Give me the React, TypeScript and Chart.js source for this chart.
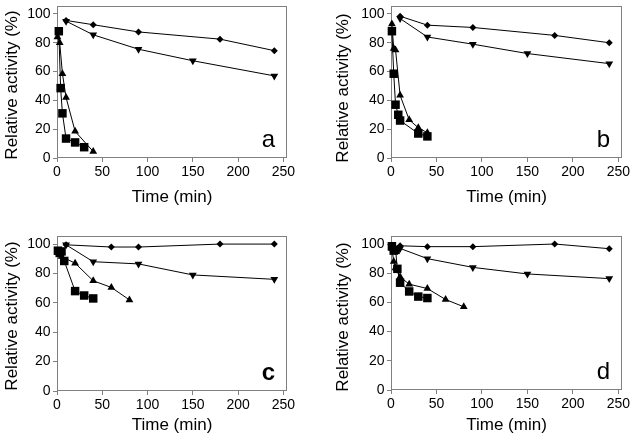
import React, { useEffect, useRef } from 'react';
import { Chart, registerables } from 'chart.js';
Chart.register(...registerables);

const FONT = "'Liberation Sans', Arial, sans-serif";

// Panel a
const aDiamondT = [10, 40, 90, 180, 240];
const aDiamondV = [95.5, 92.5, 87.5, 82.5, 74.5];
const aDownT = [10, 40, 90, 150, 240];
const aDownV = [95, 85.5, 75.5, 67.5, 57];
const aUpT = [0.5, 3, 6, 10, 20, 40];
const aUpV = [84, 80, 58.5, 42, 18.5, 4.5];
const aSqT = [2, 4, 6, 10, 20, 30];
const aSqV = [88, 48.5, 31, 13.5, 10.8, 7.5];

// Panel b
const bDiamondT = [10, 40, 90, 180, 240];
const bDiamondV = [98.4, 92.2, 90.6, 85.1, 80];
const bDownT = [10, 40, 90, 150, 240];
const bDownV = [96.8, 84, 79, 72.5, 65.5];
const bUpT = [1, 3, 5, 10, 20, 30, 40];
const bUpV = [93, 76, 75, 43.5, 26.5, 21, 17.5];
const bSqT = [1, 3, 5, 8, 10, 30, 40];
const bSqV = [88, 58.5, 37, 30, 26, 17, 15];

// Panel c
const cDiamondT = [10, 60, 90, 180, 240];
const cDiamondV = [99.5, 98, 98, 100, 100];
const cDownT = [10, 40, 90, 150, 240];
const cDownV = [99.5, 88, 86.5, 79, 76];
const cUpT = [1, 5, 20, 40, 60, 80];
const cUpV = [95, 91.5, 87, 75, 70.5, 62];
const cSqT = [1, 3, 5, 8, 20, 30, 40];
const cSqV = [95.5, 94, 95, 88.5, 68, 65, 63];

// Panel d
const dDiamondT = [10, 40, 90, 180, 240];
const dDiamondV = [98.8, 98.2, 98.2, 100, 96.8];
const dDownT = [10, 40, 90, 150, 240];
const dDownV = [97, 90, 84, 79.5, 76.3];
const dUpT = [1, 3, 5, 10, 20, 40, 60, 80];
const dUpV = [97, 88, 83.5, 77.5, 72.5, 69.5, 62, 57];
const dSqT = [1, 3, 5, 7, 10, 20, 30, 40];
const dSqV = [98.5, 95.5, 96, 83, 73.5, 67.5, 64, 63];

const xTicksMax = 254;
const yTicksMax = 105.5;
const xLabel = 'Time (min)';
const yLabel = 'Relative activity (%)';

type Style = 'diamond' | 'down' | 'up' | 'square';
type Series = { t: number[]; v: number[]; style: Style };
type Geom = { left: number; right: number; top: number; bottom: number; yTitleX: number; yTitleY: number; xTitleY: number };

function styleProps(s: Style) {
  switch (s) {
    case 'diamond':
      return { pointStyle: 'rectRot', pointRadius: 3.5, pointRotation: 0 };
    case 'down':
      return { pointStyle: 'triangle', pointRadius: 4.5, pointRotation: 180 };
    case 'up':
      return { pointStyle: 'triangle', pointRadius: 4.5, pointRotation: 0 };
    default:
      return { pointStyle: 'rect', pointRadius: 6, pointRotation: 0 };
  }
}

function Panel(props: { x: number; y: number; w: number; h: number; geom: Geom; letter: string; bold?: boolean; series: Series[] }) {
  const ref = useRef<HTMLCanvasElement>(null);
  useEffect(() => {
    const { w, h, geom, letter, bold, series } = props;
    const TITLE = 17;
    const LH = TITLE * 1.2;
    const padLeft = 0;
    const yWidth = geom.left - padLeft;
    const padRight = w - geom.right;
    const padTop = geom.top;
    const scaleBottom = geom.xTitleY + LH / 2;
    const padBottom = h - scaleBottom;
    const xHeight = scaleBottom - geom.bottom;

    const framePlugin = {
      id: 'frame',
      beforeDatasetsDraw(chart: any) {
        const { ctx, chartArea: a } = chart;
        ctx.save();
        ctx.strokeStyle = '#808080';
        ctx.lineWidth = 1;
        ctx.strokeRect(Math.round(a.left) + 0.5, Math.round(a.top) + 0.5, Math.round(a.right - a.left) - 1, Math.round(a.bottom - a.top) - 1);
        ctx.restore();
      },
      afterDraw(chart: any) {
        const { ctx, chartArea: a } = chart;
        ctx.save();
        ctx.fillStyle = '#000';
        ctx.font = (bold ? 'bold ' : '') + '24px ' + FONT;
        ctx.textAlign = 'right';
        ctx.textBaseline = 'alphabetic';
        ctx.fillText(letter, a.right - 12, a.bottom - 11);
        ctx.restore();
        ctx.save();
        ctx.translate(geom.yTitleX, geom.yTitleY);
        ctx.rotate(-Math.PI / 2);
        ctx.fillStyle = '#000';
        ctx.font = TITLE + 'px ' + FONT;
        ctx.textAlign = 'center';
        ctx.textBaseline = 'middle';
        ctx.fillText(yLabel, 0, 0);
        ctx.restore();
      },
    };

    const datasets = series.map((s) => ({
      data: s.t.map((t, i) => ({ x: t, y: s.v[i] })),
      showLine: true,
      borderColor: '#000',
      backgroundColor: '#000',
      borderWidth: 1,
      pointBorderWidth: 0,
      pointBackgroundColor: '#000',
      tension: 0,
      clip: false as any,
      ...styleProps(s.style),
    }));

    const gridOpts = {
      display: true,
      drawOnChartArea: false,
      drawTicks: true,
      tickLength: 4,
      color: '#808080',
    };

    const chart = new Chart(ref.current!, {
      type: 'scatter',
      data: { datasets: datasets as any },
      options: {
        animation: false,
        responsive: false,
        devicePixelRatio: 1,
        layout: { padding: { left: padLeft, right: padRight, top: padTop, bottom: padBottom } },
        plugins: { legend: { display: false }, tooltip: { enabled: false } },
        scales: {
          x: {
            type: 'linear',
            min: 0,
            max: xTicksMax,
            border: { display: false },
            grid: gridOpts as any,
            ticks: { stepSize: 50, includeBounds: false, padding: 2, color: '#000', font: { family: FONT, size: 14 }, maxRotation: 0 },
            title: { display: true, text: xLabel, color: '#000', padding: 0, font: { family: FONT, size: TITLE } },
            afterFit: (s: any) => {
              s.height = xHeight;
              s.paddingLeft = 0;
              s.paddingRight = 0;
            },
          },
          y: {
            type: 'linear',
            min: 0,
            max: yTicksMax,
            border: { display: false },
            grid: gridOpts as any,
            ticks: { stepSize: 20, includeBounds: false, padding: 2.5, color: '#000', font: { family: FONT, size: 14 } },
            title: { display: false },
            afterFit: (s: any) => {
              s.width = yWidth;
              s.paddingTop = 0;
              s.paddingBottom = 0;
            },
          },
        },
      },
      plugins: [framePlugin],
    });
    return () => chart.destroy();
  }, []);
  return (
    <div style={{ position: 'absolute', left: props.x, top: props.y, width: props.w, height: props.h }}>
      <canvas ref={ref} width={props.w} height={props.h} style={{ display: 'block' }} />
    </div>
  );
}

function mk(dT: number[], dV: number[], vT: number[], vV: number[], uT: number[], uV: number[], sT: number[], sV: number[]): Series[] {
  return [
    { t: sT, v: sV, style: 'square' },
    { t: uT, v: uV, style: 'up' },
    { t: vT, v: vV, style: 'down' },
    { t: dT, v: dV, style: 'diamond' },
  ];
}

export default function App() {
  return (
    <div style={{ position: 'fixed', left: 0, top: 0, width: 632, height: 441, background: '#fff' }}>
      <Panel x={0} y={0} w={316} h={220} letter="a"
        geom={{ left: 57, right: 287, top: 4, bottom: 158, yTitleX: 12.5, yTitleY: 85, xTitleY: 197 }}
        series={mk(aDiamondT, aDiamondV, aDownT, aDownV, aUpT, aUpV, aSqT, aSqV)} />
      <Panel x={316} y={0} w={316} h={220} letter="b"
        geom={{ left: 75, right: 306, top: 5, bottom: 158, yTitleX: 27, yTitleY: 88, xTitleY: 197.5 }}
        series={mk(bDiamondT, bDiamondV, bDownT, bDownV, bUpT, bUpV, bSqT, bSqV)} />
      <Panel x={0} y={220} w={316} h={221} letter="c" bold
        geom={{ left: 57, right: 287, top: 16, bottom: 171, yTitleX: 12.5, yTitleY: 96, xTitleY: 205 }}
        series={mk(cDiamondT, cDiamondV, cDownT, cDownV, cUpT, cUpV, cSqT, cSqV)} />
      <Panel x={316} y={220} w={316} h={221} letter="d"
        geom={{ left: 75, right: 306, top: 16, bottom: 170, yTitleX: 27.5, yTitleY: 97, xTitleY: 205 }}
        series={mk(dDiamondT, dDiamondV, dDownT, dDownV, dUpT, dUpV, dSqT, dSqV)} />
    </div>
  );
}
